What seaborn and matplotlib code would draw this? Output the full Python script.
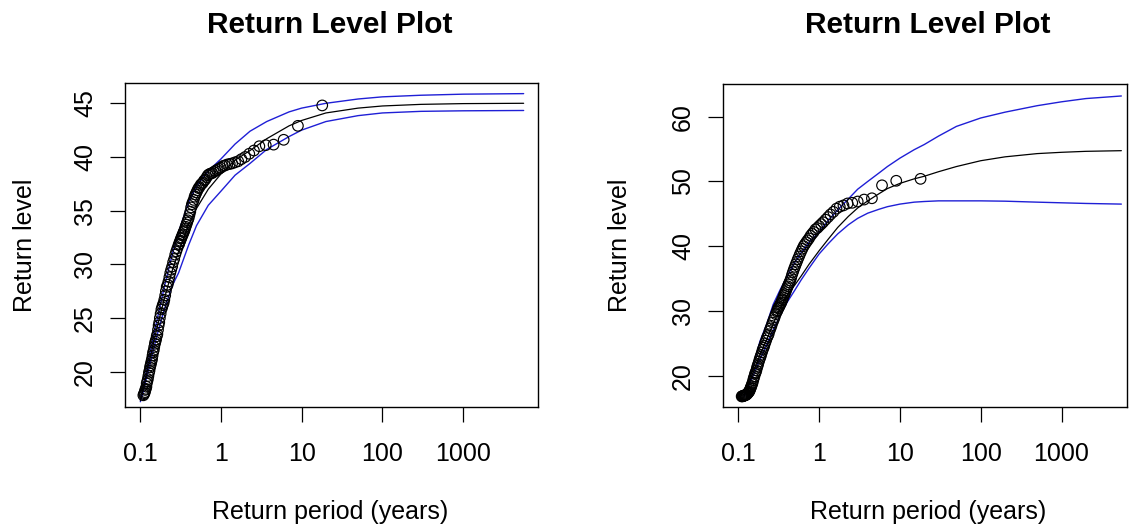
import matplotlib
matplotlib.use("Agg")
import matplotlib.pyplot as plt
import seaborn as sns
import pandas as pd

# ---------------- data ----------------
obs_period = [18.0, 9.0, 6.0, 4.5, 3.6, 3.0, 2.57, 2.25, 2.0, 1.8, 1.64, 1.5, 1.38, 1.29, 1.2,
              1.12, 1.06, 1.0, 0.95, 0.9, 0.857, 0.818, 0.783, 0.75, 0.72, 0.692, 0.667, 0.643,
              0.621, 0.6, 0.58, 0.563, 0.545, 0.53, 0.514, 0.5, 0.486, 0.474, 0.462, 0.45, 0.439,
              0.429, 0.419, 0.409, 0.4, 0.391, 0.383, 0.375, 0.367, 0.36, 0.353, 0.346, 0.34,
              0.333, 0.327, 0.321, 0.316, 0.31, 0.305, 0.3, 0.29, 0.281, 0.273, 0.265, 0.257,
              0.25, 0.243, 0.237, 0.231, 0.225, 0.22, 0.214, 0.209, 0.205, 0.2, 0.196, 0.191,
              0.188, 0.184, 0.18, 0.176, 0.173, 0.17, 0.167, 0.164, 0.161, 0.158, 0.155, 0.153,
              0.15, 0.148, 0.145, 0.143, 0.141, 0.139, 0.137, 0.135, 0.133, 0.131, 0.129, 0.127,
              0.125, 0.123, 0.121, 0.12, 0.118, 0.116, 0.115, 0.113, 0.112, 0.11]

left_obs_level = [44.8, 42.9, 41.6, 41.15, 41.1, 41.0, 40.6, 40.3, 40.0, 39.8, 39.6, 39.5, 39.4,
                  39.35, 39.3, 39.2, 39.15, 39.0, 38.9, 38.8, 38.7, 38.6, 38.5, 38.45, 38.4, 38.3,
                  38.1, 37.9, 37.8, 37.6, 37.5, 37.4, 37.2, 37.1, 36.9, 36.7, 36.5, 36.3, 36.0,
                  35.8, 35.6, 35.3, 34.9, 34.6, 34.3, 34.1, 33.9, 33.7, 33.5, 33.3, 33.1, 33.0,
                  32.8, 32.7, 32.5, 32.4, 32.2, 32.1, 31.9, 31.8, 31.5, 31.2, 30.9, 30.5, 30.2,
                  29.8, 29.5, 29.2, 28.8, 28.4, 28.1, 27.9, 27.5, 27.1, 26.7, 26.4, 26.2, 26.0,
                  25.8, 25.4, 25.0, 24.6, 24.3, 23.9, 23.5, 23.3, 23.0, 22.8, 22.6, 22.3, 22.0,
                  21.8, 21.5, 21.2, 21.0, 20.8, 20.6, 20.4, 20.1, 19.9, 19.6, 19.3, 19.1, 18.9,
                  18.6, 18.4, 18.3, 18.1, 18.0, 17.9, 17.8]

right_obs_level = [50.4, 50.1, 49.4, 47.4, 47.2, 46.9, 46.7, 46.6, 46.3, 46.1, 45.8, 45.3, 44.9,
                   44.5, 44.1, 43.7, 43.4, 43.1, 42.8, 42.6, 42.2, 41.9, 41.6, 41.2, 40.9, 40.6,
                   40.3, 40.0, 39.6, 39.2, 38.8, 38.4, 38.0, 37.6, 37.2, 36.8, 36.4, 36.0, 35.6,
                   35.1, 34.7, 34.4, 34.1, 33.8, 33.5, 33.2, 32.9, 32.6, 32.4, 32.1, 31.8, 31.6,
                   31.3, 31.1, 30.9, 30.7, 30.5, 30.4, 30.1, 29.9, 29.5, 29.0, 28.6, 28.2, 27.7,
                   27.3, 26.9, 26.4, 26.1, 25.8, 25.4, 25.0, 24.6, 24.3, 24.0, 23.6, 23.2, 22.9,
                   22.6, 22.2, 21.8, 21.5, 21.2, 20.8, 20.5, 20.3, 19.9, 19.6, 19.3, 18.9, 18.7,
                   18.4, 18.2, 18.0, 17.8, 17.6, 17.5, 17.4, 17.3, 17.2, 17.1, 17.05, 17.0, 17.0,
                   16.95, 16.9, 16.9, 16.85, 16.85, 16.8, 16.8]

left_curve_period = [0.101, 0.106, 0.115, 0.13, 0.16, 0.2, 0.25, 0.3, 0.4, 0.5, 0.7, 1.0, 1.5,
                     2.3, 3.7, 7, 10, 20, 50, 100, 300, 1000, 5600]
left_upper = [17.4, 18.1, 19.4, 21.4, 24.6, 27.9, 30.9, 33.0, 35.8, 37.3, 38.7, 39.8, 41.2,
              42.4, 43.3, 44.2, 44.55, 45.0, 45.4, 45.6, 45.75, 45.85, 45.9]
left_fit = [17.3, 17.9, 19.1, 20.9, 23.9, 26.8, 29.4, 31.2, 33.7, 35.2, 37.0, 38.4, 39.7,
            40.6, 41.7, 42.9, 43.4, 44.1, 44.55, 44.75, 44.9, 44.97, 45.0]
left_lower = [17.2, 17.7, 18.8, 20.4, 23.2, 25.8, 28.0, 29.2, 31.8, 33.6, 35.5, 36.8, 38.3,
              39.4, 40.7, 41.9, 42.5, 43.3, 43.85, 44.1, 44.25, 44.3, 44.33]

right_curve_period = [0.118, 0.125, 0.15, 0.185, 0.225, 0.27, 0.33, 0.4, 0.5, 0.6, 0.75, 1.0,
                      1.3, 1.7, 2.3, 3.0, 4.0, 5.5, 7, 10, 15, 20, 30, 50, 100, 200, 500,
                      1000, 2000, 5500]
right_upper = [17.0, 17.8, 21.1, 25.3, 28.0, 31.0, 33.3, 35.3, 37.5, 39.0, 40.6, 42.2, 44.0,
               45.6, 47.3, 48.8, 50.0, 51.3, 52.3, 53.6, 54.9, 55.7, 57.0, 58.5, 59.8, 60.7,
               61.7, 62.3, 62.8, 63.2]
right_fit = [16.9, 17.6, 20.3, 23.2, 25.6, 28.0, 30.4, 32.4, 34.0, 35.4, 37.2, 39.3, 41.1,
             42.9, 44.6, 45.9, 47.0, 48.1, 48.9, 49.7, 50.4, 50.8, 51.5, 52.3, 53.2, 53.8,
             54.3, 54.5, 54.65, 54.75]
right_lower = [16.8, 17.5, 19.8, 22.5, 24.8, 27.0, 29.3, 31.3, 33.2, 34.8, 36.6, 38.8, 40.4,
               41.9, 43.3, 44.3, 45.1, 45.7, 46.1, 46.5, 46.8, 46.9, 47.0, 47.0, 47.0, 46.95,
               46.8, 46.7, 46.6, 46.5]

x_ticks = [0.1, 1, 10, 100, 1000]
x_tick_labels = ["0.1", "1", "10", "100", "1000"]
left_y_ticks = [20, 25, 30, 35, 40, 45]
right_y_ticks = [20, 30, 40, 50, 60]
title_text = "Return Level Plot"
x_label = "Return period (years)"
y_label = "Return level"

# ---------------- styling ----------------
sns.set_theme(style="white")
plt.rcParams["font.family"] = ["Liberation Sans", "DejaVu Sans"]

BLUE = "#1f1fd6"
fig = plt.figure(figsize=(11.29, 5.26), dpi=100)
axL = fig.add_axes([125 / 1129, 1 - 407 / 526, 413 / 1129, 324 / 526])
axR = fig.add_axes([723 / 1129, 1 - 407 / 526, 404 / 1129, 323 / 526])


def draw(ax, cper, up, fit, lo, olev, yticks, xlim, ylim, title_x):
    curves = pd.DataFrame({"period": cper, "upper": up, "fit": fit, "lower": lo})
    obs = pd.DataFrame({"period": obs_period, "level": olev})
    ax.set_xscale("log")
    sns.lineplot(data=curves, x="period", y="upper", ax=ax, color=BLUE, lw=1.0,
                 estimator=None, sort=False)
    sns.lineplot(data=curves, x="period", y="lower", ax=ax, color=BLUE, lw=1.0,
                 estimator=None, sort=False)
    sns.lineplot(data=curves, x="period", y="fit", ax=ax, color="black", lw=0.9,
                 estimator=None, sort=False)
    sns.scatterplot(data=obs, x="period", y="level", ax=ax, marker="o", s=58,
                    facecolor="none", edgecolor="black", linewidth=0.85, zorder=3)
    ax.set_xlim(*xlim)
    ax.set_ylim(*ylim)
    ax.set_xticks(x_ticks)
    ax.set_xticklabels(x_tick_labels)
    ax.minorticks_off()
    ax.set_yticks(yticks)
    ax.set_yticklabels([str(t) for t in yticks], rotation=90, va="center")
    ax.tick_params(axis="both", direction="out", length=11, width=0.9, color="black",
                   labelsize=18, labelcolor="black")
    ax.tick_params(axis="x", pad=14)
    ax.tick_params(axis="y", pad=9)
    ax.xaxis.set_ticks_position("bottom")
    ax.yaxis.set_ticks_position("left")
    for s in ax.spines.values():
        s.set_visible(True)
        s.set_color("black")
        s.set_linewidth(1.0)
    ax.grid(False)
    ax.set_xlabel(x_label, fontsize=18, color="black")
    ax.set_ylabel(y_label, fontsize=18, color="black")
    ax.xaxis.label.set_va("center")
    ax.yaxis.label.set_va("center")
    fig.text(title_x / 1129, 1 - 25 / 526, title_text, ha="center", va="center",
             fontsize=21.5, fontweight="bold", color="black")


draw(axL, left_curve_period, left_upper, left_fit, left_lower, left_obs_level,
     left_y_ticks, (0.0652, 8430), (16.71, 46.89), 330)
axL.xaxis.set_label_coords((330 - 125) / 413, (407 - 512) / 324)
axL.yaxis.set_label_coords((25 - 125) / 413, 0.5)

draw(axR, right_curve_period, right_upper, right_fit, right_lower, right_obs_level,
     right_y_ticks, (0.0646, 6460), (15.16, 65.05), 928)
axR.xaxis.set_label_coords((928 - 723) / 404, (407 - 512) / 323)
axR.yaxis.set_label_coords((620 - 723) / 404, 0.5)

fig.savefig("out.png", dpi=100)
